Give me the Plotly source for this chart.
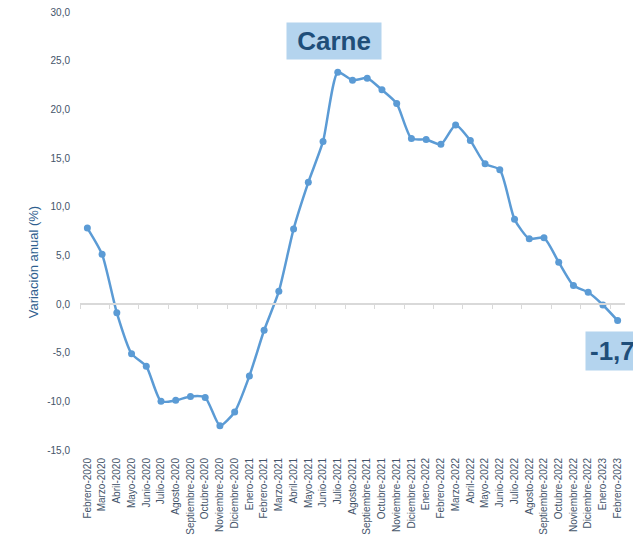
import plotly.graph_objects as go

meses = ["Febrero-2020", "Marzo-2020", "Abril-2020", "Mayo-2020", "Junio-2020", "Julio-2020",
         "Agosto-2020", "Septiembre-2020", "Octubre-2020", "Noviembre-2020", "Diciembre-2020",
         "Enero-2021", "Febrero-2021", "Marzo-2021", "Abril-2021", "Mayo-2021", "Junio-2021",
         "Julio-2021", "Agosto-2021", "Septiembre-2021", "Octubre-2021", "Noviembre-2021",
         "Diciembre-2021", "Enero-2022", "Febrero-2022", "Marzo-2022", "Abril-2022", "Mayo-2022",
         "Junio-2022", "Julio-2022", "Agosto-2022", "Septiembre-2022", "Octubre-2022",
         "Noviembre-2022", "Diciembre-2022", "Enero-2023", "Febrero-2023"]

variacion = [7.8, 5.1, -0.9, -5.1, -6.4, -10.0, -9.9, -9.5, -9.6, -12.5, -11.1,
             -7.4, -2.7, 1.3, 7.7, 12.5, 16.7, 23.8, 23.0, 23.2, 22.0, 20.6,
             17.0, 16.9, 16.4, 18.4, 16.8, 14.4, 13.8, 8.7, 6.7, 6.8, 4.3,
             1.9, 1.2, -0.1, -1.7]

y_ticks = [-15, -10, -5, 0, 5, 10, 15, 20, 25, 30]
y_tick_labels = ["-15,0", "-10,0", "-5,0", "0,0", "5,0", "10,0", "15,0", "20,0", "25,0", "30,0"]

titulo = "Carne"
titulo_y = "Variación anual (%)"
ultimo = f"{variacion[-1]:.1f}".replace(".", ",")

LINE = "#5B9BD5"
TICK = "#44546A"
DARK = "#1F4E79"
BOX = "#B4D4EE"
FONT = "Liberation Sans, Arial, sans-serif"
NB = "\u00a0"

fig = go.Figure()
fig.add_trace(go.Scatter(
    x=meses, y=variacion, mode="lines+markers",
    line=dict(color=LINE, width=2.5, shape="spline", smoothing=0.6),
    marker=dict(color=LINE, size=7),
    xaxis="x", yaxis="y", showlegend=False, hoverinfo="x+y",
))
# invisible helper trace for the zero-line axis with boundary ticks
fig.add_trace(go.Scatter(
    x=meses, y=[None] * len(meses), mode="markers",
    xaxis="x2", yaxis="y", showlegend=False, hoverinfo="skip",
))

# the page body adds an 8px offset, so the figure is 8px smaller
fig.update_layout(
    width=633, height=533,
    margin=dict(l=72, r=16, t=4, b=91),
    paper_bgcolor="white", plot_bgcolor="white",
    font=dict(family=FONT, color=TICK),
    xaxis=dict(
        type="category", categoryorder="array", categoryarray=meses,
        range=[-0.5, len(meses) - 0.5], automargin=False,
        showgrid=False, showline=False, zeroline=False,
        ticks="outside", ticklen=3, tickcolor="rgba(0,0,0,0)",
        tickangle=-90, tickfont=dict(size=10, color=TICK),
    ),
    xaxis2=dict(
        type="category", categoryorder="array", categoryarray=meses,
        range=[-0.5, len(meses) - 0.5], automargin=False,
        overlaying="x", anchor="free", position=1/3, side="bottom",
        showgrid=False, zeroline=False, showticklabels=False,
        showline=True, linecolor="#D9D9D9", linewidth=2,
        ticks="outside", tickson="boundaries", ticklen=4, tickcolor="#D9D9D9", tickwidth=1,
    ),
    yaxis=dict(
        range=[-15, 30], tickvals=y_ticks, ticktext=y_tick_labels, automargin=False,
        showgrid=False, zeroline=False, showline=False,
        ticks="outside", ticklen=7, tickcolor="rgba(0,0,0,0)",
        ticklabeloverflow="allow",
        tickfont=dict(size=10, color=TICK),
    ),
    annotations=[
        dict(text=titulo_y, xref="paper", yref="y", x=-0.086, y=4.3,
             textangle=-90, xanchor="center", yanchor="middle", showarrow=False,
             font=dict(size=13, color="#2F5F8F", family=FONT)),
        dict(text=f"<b>{NB}{titulo}{NB}</b>", xref="paper", yref="y", x=0.466, y=27.07,
             xanchor="center", yanchor="middle", showarrow=False,
             font=dict(size=26, color=DARK, family=FONT),
             bgcolor=BOX, borderpad=3),
        dict(text=f"<b>{ultimo}</b>", xref="paper", yref="y", x=(640 - 80) / 545, y=-4.78,
             xanchor="right", yanchor="middle", showarrow=False,
             font=dict(size=26, color=DARK, family=FONT),
             bgcolor=BOX, borderpad=4),
    ],
)

fig.write_html("out.html")
